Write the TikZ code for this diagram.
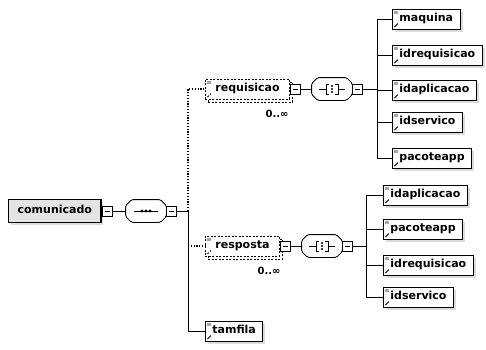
\documentclass[tikz,border=0pt]{standalone}
\usepackage{fontspec}
\newfontfamily\xsdfont{DejaVu Sans}
\usetikzlibrary{shadows}
\definecolor{shadowGray}{HTML}{A8A8A8}
\definecolor{rootFill}{HTML}{E4E4E4}

% octagon outline of a compositor node
\newcommand\octpath[1]{([xshift=6pt]#1.north west) -- ([xshift=-6pt]#1.north east)
  -- ([yshift=-6pt]#1.north east) -- ([yshift=6pt]#1.south east)
  -- ([xshift=-6pt]#1.south east) -- ([xshift=6pt]#1.south west)
  -- ([yshift=6pt]#1.south west) -- ([yshift=-6pt]#1.north west) -- cycle}
\newcommand\octagon[1]{%
  \fill[shadowGray,opacity=0.4,shift={(2.5,2.5)},rounded corners=1.5pt] \octpath{#1};
  \draw[fill=white,rounded corners=1.5pt] \octpath{#1};
}
% choice compositor symbol
\newcommand\choiceicon[1]{%
  \draw ([xshift=-13pt]#1.center) -- ([xshift=-6pt]#1.center);
  \draw ([xshift=6pt]#1.center) -- ([xshift=13pt]#1.center);
  \draw ([shift={(-3,-5)}]#1.center) -- ++(-3,0) -- ++(0,10) -- ++(3,0);
  \draw ([shift={(3,-5)}]#1.center) -- ++(3,0) -- ++(0,10) -- ++(-3,0);
  \foreach \d in {-3,0,3} \fill ([yshift=\d pt]#1.center) circle (1.1);
}

\begin{document}
\begin{tikzpicture}[x=1pt,y=-1pt,line width=0.85pt,font=\xsdfont\bfseries\fontsize{11}{13}\selectfont,
  box/.style={draw,fill=white,anchor=west,minimum height=20pt,inner xsep=7pt,inner ysep=0pt,
    text height=8pt,text depth=2.5pt,
    drop shadow={shadow xshift=2.5pt,shadow yshift=-2.5pt,opacity=0.4,fill=shadowGray}},
  elem/.style={box,path picture={
      \fill[gray!70] ([shift={(1.5,1.5)}]path picture bounding box.north west) rectangle ++(4,3);
      \fill ([shift={(1,-1)}]path picture bounding box.south west) -- ++(0,-4) -- ++(4,4) -- cycle;
      \draw[line width=0.8pt] ([shift={(2,-2)}]path picture bounding box.south west) -- ++(3.5,-3.5);}},
  optelem/.style={elem,inner xsep=10pt,dash pattern=on 2pt off 1.5pt,
    copy shadow={shadow xshift=3pt,shadow yshift=-3pt,dash pattern=on 2pt off 1.5pt}},
  rootelem/.style={box,fill=rootFill,line width=1.3pt,inner xsep=9pt,minimum height=23pt},
  minusbox/.style={draw,fill=white,anchor=west,minimum size=10pt,inner sep=0pt,
    path picture={\draw ([xshift=-2.5pt]path picture bounding box.center) -- ([xshift=2.5pt]path picture bounding box.center);}},
  compositor/.style={minimum width=40pt,minimum height=22pt,inner sep=0pt},
  optline/.style={dash pattern=on 1.2pt off 1.6pt,line width=1.1pt},
  card/.style={font=\xsdfont\bfseries\fontsize{10}{12}\selectfont}]
  \useasboundingbox (0,0) rectangle (486,349);
  % root and sequence
  \node[rootelem] (comunicado) at (8,211) {comunicado};
  \node[minusbox] (comm) at (comunicado.east) {};
  \node[compositor] (seq) at (146,211) {};
  \octagon{seq}
  \node[minusbox] (seqm) at (seq.east) {};
  \draw ([xshift=-12pt]seq.center) -- ([xshift=12pt]seq.center);
  \foreach \d in {-4,0,4} \fill ([xshift=\d pt]seq.center) circle (1.6);
  \draw (comm) -- (seq);
  \coordinate (spine) at (188,211);
  \draw (seqm.east) -- (spine);
  % requisicao
  \node[optelem] (requisicao) at (205,89) {requisicao};
  \node[minusbox] (rqm) at (requisicao.east) {};
  \node[card] (rqcard) at (277,114) {0..∞};
  \node[compositor] (rqchoice) at (332,89) {};
  \octagon{rqchoice}
  \node[minusbox] (rqcm) at (rqchoice.east) {};
  \choiceicon{rqchoice}
  \draw (rqm) -- (rqchoice);
  \coordinate (rqbus) at (377,89);
  \draw (rqcm.east) -- (rqbus);
  \draw[optline] (spine) |- (requisicao.west);
  \foreach \t/\y [count=\i] in {maquina/19,idrequisicao/55,idaplicacao/90,idservico/122,pacoteapp/158} {
    \node[elem] (rq\i) at (392,\y) {\t};
    \draw (rqbus) |- (rq\i.west);
  }
  % resposta
  \node[optelem] (resposta) at (205,246) {resposta};
  \node[minusbox] (rsm) at (resposta.east) {};
  \node[card] (rscard) at (269,271) {0..∞};
  \node[compositor] (rschoice) at (322,246) {};
  \octagon{rschoice}
  \node[minusbox] (rscm) at (rschoice.east) {};
  \choiceicon{rschoice}
  \draw (rsm) -- (rschoice);
  \coordinate (rsbus) at (366,246);
  \draw (rscm.east) -- (rsbus);
  \draw[optline] (spine |- resposta.west) -- (resposta.west);
  \foreach \t/\y [count=\i] in {idaplicacao/195,pacoteapp/229,idrequisicao/265,idservico/297} {
    \node[elem] (rs\i) at (383,\y) {\t};
    \draw (rsbus) |- (rs\i.west);
  }
  % tamfila
  \node[elem] (tamfila) at (205,331) {tamfila};
  \draw (spine) |- (tamfila.west);
\end{tikzpicture}
\end{document}
